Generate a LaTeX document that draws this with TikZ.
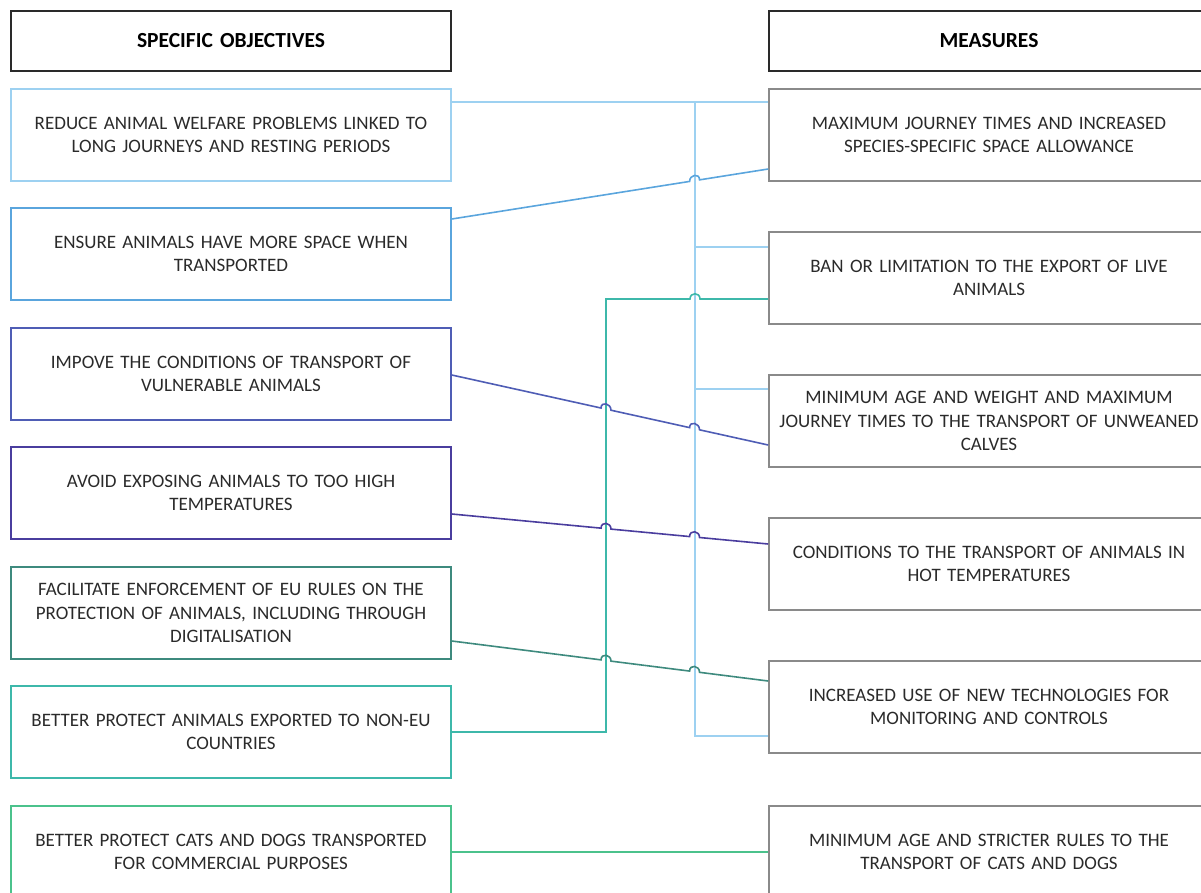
\documentclass[tikz,border=0pt]{standalone}
\usepackage{fontspec}
\setmainfont{Carlito}
\usetikzlibrary{calc}
\definecolor{cA}{HTML}{9DD1F1}
\definecolor{cB}{HTML}{5AA5DD}
\definecolor{cC}{HTML}{4F5DB5}
\definecolor{cD}{HTML}{4A3D9E}
\definecolor{cE}{HTML}{3E8A7E}
\definecolor{cF}{HTML}{3DB8AA}
\definecolor{cG}{HTML}{4BC28C}
\definecolor{mgray}{HTML}{8A8A8A}
\definecolor{txt}{HTML}{2A2A2A}
\tikzset{
  box/.style={draw, line width=1.6pt, minimum width=440pt, minimum height=92pt, text width=436pt, align=center, inner sep=0pt, text=txt, font=\fontsize{19}{23.5}\selectfont},
  hdr/.style={box, draw=txt, minimum height=60pt, font=\bfseries\fontsize{21.5}{24}\selectfont, text=black},
  mbox/.style={box, draw=mgray},
  link/.style={line width=1.6pt}
}
\begin{document}
\begin{tikzpicture}[x=1pt,y=-1pt]
\useasboundingbox (0,0) rectangle (1201,892);
\begin{scope}
\clip (0,0) rectangle (1201,892);
% headers
\node[hdr] (h1) at (231,41) {SPECIFIC OBJECTIVES};
\node[hdr] (h2) at (989,41) {MEASURES};
% objectives
\node[box, draw=cA] (o1) at (231,135) {REDUCE ANIMAL WELFARE PROBLEMS LINKED TO\\LONG JOURNEYS AND RESTING PERIODS};
\node[box, draw=cB] (o2) at (231,254) {ENSURE ANIMALS HAVE MORE SPACE WHEN\\TRANSPORTED};
\node[box, draw=cC] (o3) at (231,374) {IMPOVE THE CONDITIONS OF TRANSPORT OF\\VULNERABLE ANIMALS};
\node[box, draw=cD] (o4) at (231,493) {AVOID EXPOSING ANIMALS TO TOO HIGH\\TEMPERATURES};
\node[box, draw=cE] (o5) at (231,613) {FACILITATE ENFORCEMENT OF EU RULES ON THE\\PROTECTION OF ANIMALS, INCLUDING THROUGH\\DIGITALISATION};
\node[box, draw=cF] (o6) at (231,732) {BETTER PROTECT ANIMALS EXPORTED TO NON-EU\\COUNTRIES};
\node[box, draw=cG] (o7) at (231,852) {BETTER PROTECT CATS AND DOGS TRANSPORTED\\FOR COMMERCIAL PURPOSES};
% measures
\node[mbox] (m1) at (989,135) {MAXIMUM JOURNEY TIMES AND INCREASED\\SPECIES-SPECIFIC SPACE ALLOWANCE};
\node[mbox] (m2) at (989,278) {BAN OR LIMITATION TO THE EXPORT OF LIVE\\ANIMALS};
\node[mbox] (m3) at (989,421) {MINIMUM AGE AND WEIGHT AND MAXIMUM\\JOURNEY TIMES TO THE TRANSPORT OF UNWEANED\\CALVES};
\node[mbox] (m4) at (989,564) {CONDITIONS TO THE TRANSPORT OF ANIMALS IN\\HOT TEMPERATURES};
\node[mbox] (m5) at (989,707) {INCREASED USE OF NEW TECHNOLOGIES FOR\\MONITORING AND CONTROLS};
\node[mbox] (m6) at (989,852) {MINIMUM AGE AND STRICTER RULES TO THE\\TRANSPORT OF CATS AND DOGS};
\end{scope}
% connector end points
\coordinate (a1) at ([yshift=33pt]o1.east);
\coordinate (b1) at ([yshift=33pt]m1.west);
\coordinate (a2) at ([yshift=35pt]o2.east);
\coordinate (b2) at ([yshift=-34pt]m1.west);
\coordinate (a3) at ([yshift=-1pt]o3.east);
\coordinate (b3) at ([yshift=-24pt]m3.west);
\coordinate (a4) at ([yshift=-21pt]o4.east);
\coordinate (b4) at ([yshift=20pt]m4.west);
\coordinate (a5) at ([yshift=-28pt]o5.east);
\coordinate (b5) at ([yshift=26pt]m5.west);
\coordinate (a6) at (o6.east);
\coordinate (b6) at ([yshift=-21pt]m2.west);
\coordinate (t2) at ([yshift=31pt]m2.west);
\coordinate (t3) at ([yshift=32pt]m3.west);
\coordinate (t5) at ([yshift=-29pt]m5.west);
\coordinate (ttop) at (a1 -| 695,0);
\coordinate (tbot) at (t5 -| 695,0);
\coordinate (v6b) at (a6 -| 606,0);
\coordinate (v6t) at (b6 -| 606,0);
% light blue trunk
\draw[link, cA] (a1) -- (b1);
\draw[link, cA] (ttop) -- (tbot) -- (t5);
\draw[link, cA] (ttop |- t2) -- (t2);
\draw[link, cA] (ttop |- t3) -- (t3);
% teal route
\draw[link, cF] (a6) -- (v6b) -- (v6t) -- ($(v6t -| 695,0)+(-5,0)$)
  .. controls +(0,-7) and +(0,-7) .. ($(v6t -| 695,0)+(5,0)$) -- (b6);
% sloped lines with hops
\draw[link, cB] (a2) -- ($(a2)!0.7516!(b2)$) .. controls +(0,-7) and +(0,-7) .. ($(a2)!0.7830!(b2)$) -- (b2);
\foreach \a/\b/\c in {a3/b3/cC, a4/b4/cD, a5/b5/cE}{
  \draw[link, \c] (\a) -- ($(\a)!0.4717!(\b)$) .. controls +(0,-7) and +(0,-7) .. ($(\a)!0.5031!(\b)$)
    -- ($(\a)!0.7516!(\b)$) .. controls +(0,-7) and +(0,-7) .. ($(\a)!0.7830!(\b)$) -- (\b);
}
\draw[link, cG] (o7.east) -- (m6.west);
\end{tikzpicture}
\end{document}
